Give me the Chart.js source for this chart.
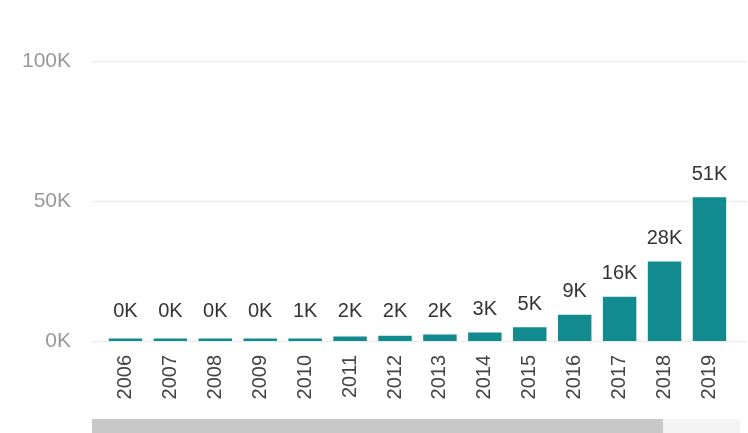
<!DOCTYPE html>
<html lang="en">
<head>
    <meta charset="UTF-8">
    <title>Yearly totals</title>
    <script src="https://cdn.jsdelivr.net/npm/chart.js"></script>
    <style>
        body {
            margin: 0;
            background: #fff;
        }
        .chart-box {
            width: 748px;
            height: 433px;
            position: relative;
        }
    </style>
</head>
<body>
    <div class="chart-box">
        <canvas id="yearChart"></canvas>
    </div>

    <script>
        // data
        const years = ['2006', '2007', '2008', '2009', '2010', '2011', '2012',
                       '2013', '2014', '2015', '2016', '2017', '2018', '2019'];
        const totals = [300, 320, 350, 400, 800, 1600, 1900,
                        2300, 3000, 4900, 9400, 15800, 28400, 51300];
        const yTicks = [0, 50000, 100000];

        const fontFamily = '"Liberation Sans", Arial, sans-serif';

        function kLabel(v) {
            return Math.round(v / 1000) + 'K';
        }

        // light grid lines that run past the plot area, like the original
        const gridPlugin = {
            id: 'wideGrid',
            beforeDatasetsDraw(chart) {
                const ctx = chart.ctx;
                const y = chart.scales.y;
                ctx.save();
                ctx.strokeStyle = '#ececec';
                ctx.lineWidth = 1.5;
                yTicks.forEach(function (t) {
                    const py = Math.round(y.getPixelForValue(t)) + 0.5;
                    ctx.beginPath();
                    ctx.moveTo(92, py);
                    ctx.lineTo(747, py);
                    ctx.stroke();
                });
                ctx.restore();
            }
        };

        // value labels above each bar
        const valueLabels = {
            id: 'valueLabels',
            afterDatasetsDraw(chart) {
                const ctx = chart.ctx;
                const meta = chart.getDatasetMeta(0);
                ctx.save();
                ctx.font = '20px ' + fontFamily;
                ctx.fillStyle = '#333333';
                ctx.textAlign = 'center';
                ctx.textBaseline = 'middle';
                meta.data.forEach(function (bar, i) {
                    const top = Math.min(bar.y, 334);
                    ctx.fillText(kLabel(totals[i]), bar.x, top - 23);
                });
                ctx.restore();
            }
        };

        // the scroll bar under the axis
        const scrollBar = {
            id: 'scrollBar',
            afterDraw(chart) {
                const ctx = chart.ctx;
                ctx.save();
                ctx.fillStyle = '#f3f3f3';
                ctx.fillRect(663, 419, 77, 14);
                ctx.fillStyle = '#c8c8c8';
                ctx.fillRect(92, 419, 571, 14);
                ctx.restore();
            }
        };

        const ctx = document.getElementById('yearChart').getContext('2d');
        new Chart(ctx, {
            type: 'bar',
            data: {
                labels: years,
                datasets: [{
                    data: totals,
                    backgroundColor: '#118b8f',
                    categoryPercentage: 1,
                    barPercentage: 0.745,
                    minBarLength: 2.5
                }]
            },
            options: {
                responsive: true,
                maintainAspectRatio: false,
                animation: false,
                layout: {
                    padding: { top: 61, right: 15, left: 0, bottom: 0 }
                },
                plugins: {
                    legend: { display: false },
                    tooltip: { enabled: false }
                },
                scales: {
                    x: {
                        grid: { display: false, drawTicks: false },
                        border: { display: false },
                        ticks: {
                            minRotation: 90,
                            maxRotation: 90,
                            padding: 14,
                            color: '#444444',
                            font: { family: fontFamily, size: 20 }
                        },
                        afterFit(scale) { scale.height = 92; }
                    },
                    y: {
                        min: 0,
                        max: 100000,
                        afterBuildTicks(scale) {
                            scale.ticks = yTicks.map(v => ({ value: v }));
                        },
                        grid: { display: false, drawTicks: false },
                        border: { display: false },
                        ticks: {
                            padding: 32,
                            color: '#999999',
                            font: { family: fontFamily, size: 21 },
                            callback: v => kLabel(v)
                        },
                        afterFit(scale) { scale.width = 103; }
                    }
                }
            },
            plugins: [gridPlugin, valueLabels, scrollBar]
        });
    </script>
</body>
</html>
